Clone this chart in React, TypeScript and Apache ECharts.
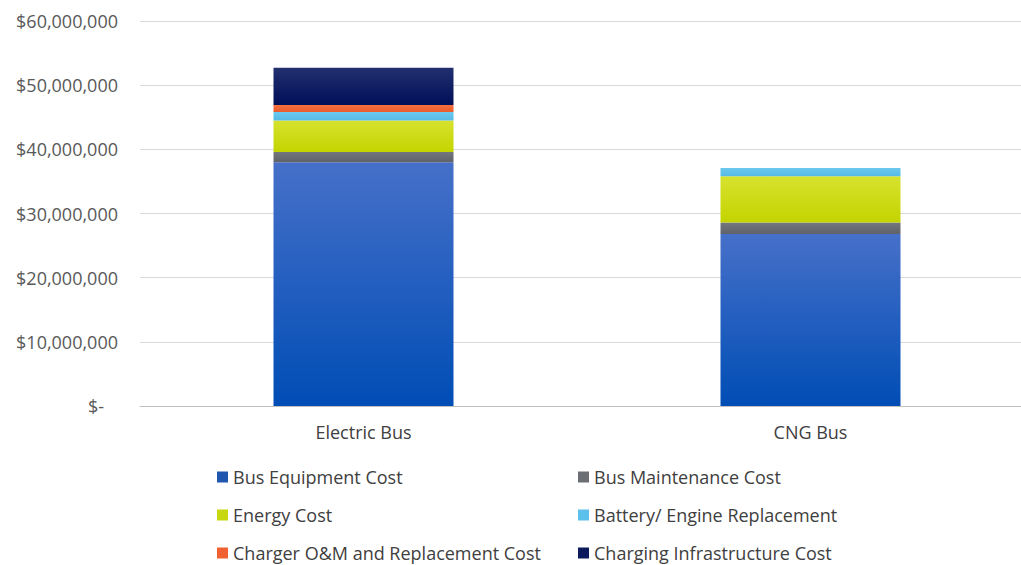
import React, { useEffect, useRef } from "react";
import * as echarts from "echarts";

const categories = ["Electric Bus", "CNG Bus"];
const seriesNames = [
  "Bus Equipment Cost",
  "Bus Maintenance Cost",
  "Energy Cost",
  "Battery/ Engine Replacement",
  "Charger O&M and Replacement Cost",
  "Charging Infrastructure Cost",
];
const busEquipment = [38000000, 26800000];
const busMaintenance = [1600000, 1800000];
const energy = [4900000, 7200000];
const battery = [1300000, 1300000];
const chargerOM = [1100000, 0];
const chargingInfra = [5800000, 0];
const seriesData = [busEquipment, busMaintenance, energy, battery, chargerOM, chargingInfra];
const colorsTop = ["#4670c9", "#74777c", "#d6e22e", "#6cc8ee", "#f4703e", "#22306f"];
const colorsBottom = ["#004db5", "#5f6268", "#c4d400", "#55bbe6", "#ec5a2a", "#000f58"];
const legendColors = ["#1e56b0", "#6b6e73", "#c8d810", "#5bc0eb", "#f06030", "#0a1a5c"];

const fmt = (v: number) => {
  if (v === 0) return "$-\u00a0\u00a0\u00a0";
  return "$" + v.toLocaleString("en-US");
};

export default function App() {
  const ref = useRef<HTMLDivElement>(null);
  useEffect(() => {
    if (!ref.current) return;
    const chart = echarts.init(ref.current, undefined, { renderer: "svg" });
    const series = seriesNames.map((name, i) => ({
      name,
      type: "bar",
      stack: "total",
      barWidth: 180,
      data: seriesData[i],
      itemStyle: {
        color: new echarts.graphic.LinearGradient(0, 0, 0, 1, [
          { offset: 0, color: colorsTop[i] },
          { offset: 1, color: colorsBottom[i] },
        ]),
      },
    }));
    const legendText = { fontFamily: "Open Sans", fontSize: 18, color: "#404040" };
    const legendBase = {
      orient: "vertical",
      top: 468,
      height: 96,
      padding: 0,
      itemGap: 20,
      itemWidth: 11,
      itemHeight: 11,
      itemTextGap: 4,
      icon: "rect",
      textStyle: legendText,
    };
    chart.setOption({
      animation: false,
      backgroundColor: "#ffffff",
      grid: { left: 140, top: 21, right: 6, bottom: 159, containLabel: false },
      xAxis: {
        type: "category",
        data: categories,
        axisLine: { lineStyle: { color: "#bfbfbf" } },
        axisTick: { show: false },
        axisLabel: { fontFamily: "Open Sans", fontSize: 18, color: "#404040", margin: 17 },
      },
      yAxis: {
        type: "value",
        min: 0,
        max: 60000000,
        interval: 10000000,
        axisLine: { show: false },
        axisTick: { show: false },
        splitLine: { lineStyle: { color: "#d9d9d9" } },
        axisLabel: { formatter: fmt, fontFamily: "Open Sans", fontSize: 18, color: "#595959", margin: 22 },
      },
      legend: [
        {
          ...legendBase,
          left: 217,
          data: [0, 2, 4].map((i) => ({ name: seriesNames[i], itemStyle: { color: legendColors[i] } })),
        },
        {
          ...legendBase,
          left: 578,
          data: [1, 3, 5].map((i) => ({ name: seriesNames[i], itemStyle: { color: legendColors[i] } })),
        },
      ],
      series,
    });
    return () => chart.dispose();
  }, []);
  return (
    <div
      ref={ref}
      style={{ position: "fixed", left: 0, top: 0, width: 1040, height: 565, background: "#fff" }}
    />
  );
}
